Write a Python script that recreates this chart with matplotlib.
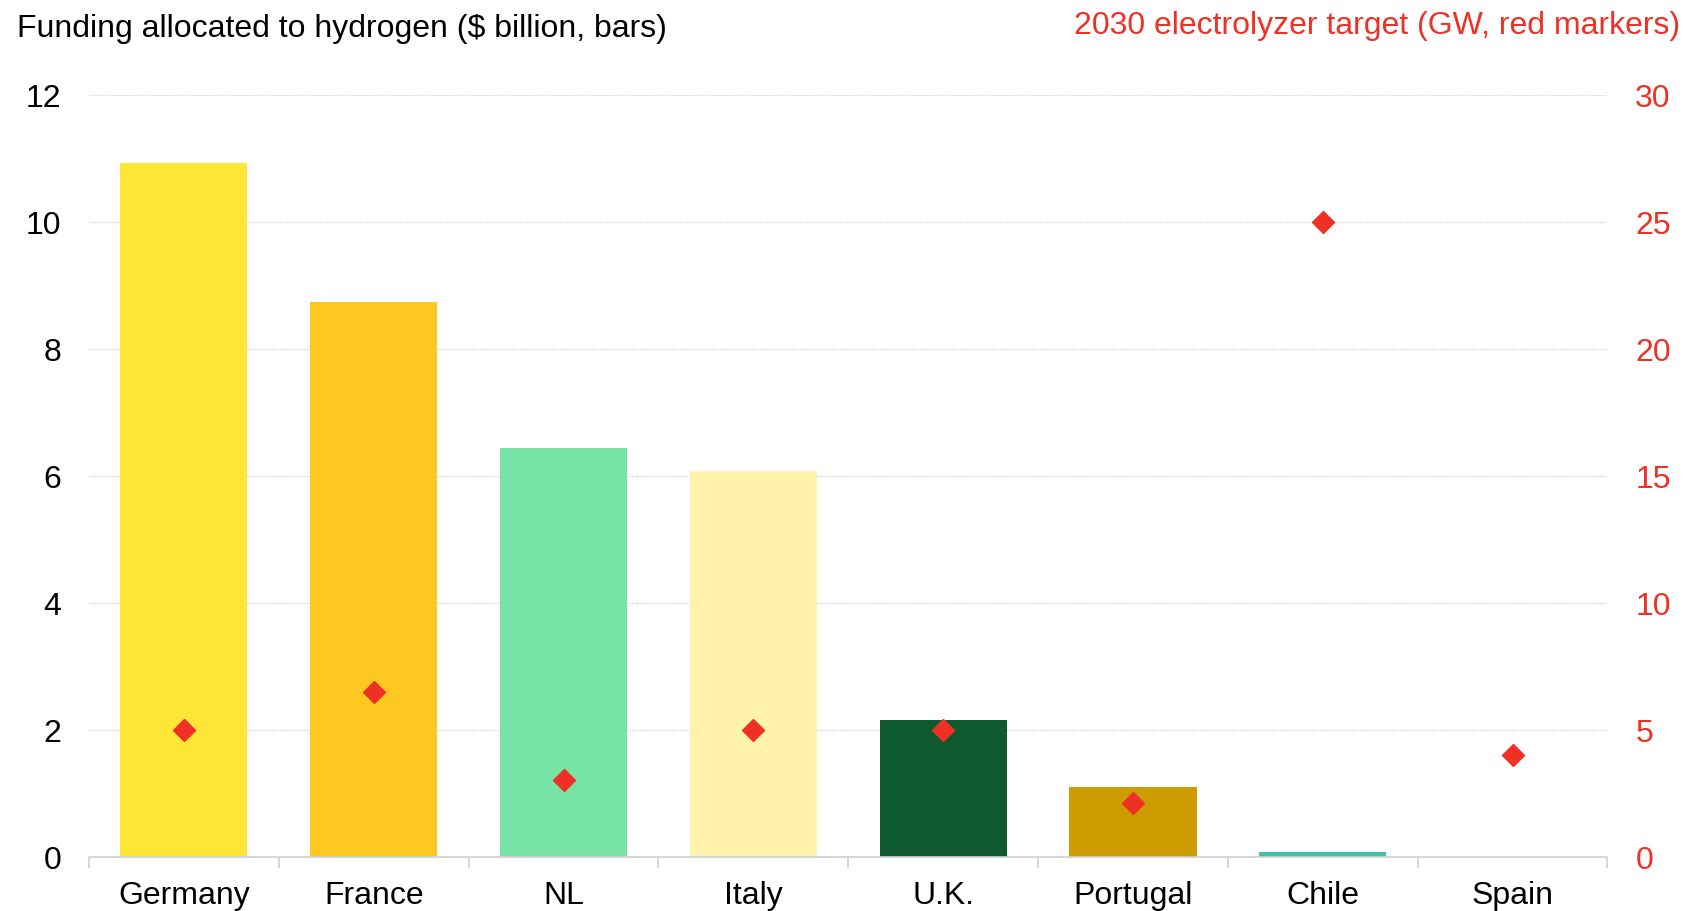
import matplotlib.pyplot as plt
import numpy as np

plt.rcParams['font.family'] = ['Liberation Sans', 'DejaVu Sans']

countries = ["Germany", "France", "NL", "Italy", "U.K.", "Portugal", "Chile", "Spain"]
funding = [10.92, 8.73, 6.43, 6.08, 2.15, 1.10, 0.07, 0.0]
target_gw = [5.0, 6.5, 3.0, 5.0, 5.0, 2.1, 25.0, 4.0]
bar_colors = ["#FFE535", "#FFC820", "#77E3A5", "#FFF3AE", "#0E5A2E", "#CC9C00", "#3FC1AA", "#3FC1AA"]
red = "#EE3124"
grid_grey = "#d0d0d0"

fig = plt.figure(figsize=(16.85, 9.12), dpi=100)
ax = fig.add_axes([0.0528, 0.0596, 0.9012, 0.8356])

x = np.arange(len(countries))
ax.bar(x, funding, width=0.67, color=bar_colors, zorder=2)

ax.set_xlim(-0.5, len(countries) - 0.5)
ax.set_ylim(0, 12)
ax.set_yticks(np.arange(0, 13, 2))
ax.yaxis.grid(True, color=grid_grey, linestyle=(0, (1, 1)), linewidth=0.9)
ax.set_axisbelow(True)

ax.set_xticks(x)
ax.set_xticklabels(countries)
ax.set_xticks(np.arange(-0.5, len(countries)), minor=True)
ax.tick_params(axis='x', which='major', length=0, pad=17, labelsize=23)
ax.tick_params(axis='x', which='minor', length=8, width=1.2, color=grid_grey)
ax.tick_params(axis='y', length=0, pad=20, labelsize=23)

for s in ["top", "left", "right"]:
    ax.spines[s].set_visible(False)
ax.spines["bottom"].set_color(grid_grey)
ax.spines["bottom"].set_linewidth(1.2)

ax2 = ax.twinx()
ax2.plot(x, target_gw, linestyle="none", marker="D", markersize=11.5, color=red, zorder=3)
ax2.set_ylim(0, 30)
ax2.set_yticks(np.arange(0, 31, 5))
ax2.tick_params(axis='y', length=0, pad=20, labelsize=23, labelcolor=red)
for s in ["top", "left", "right", "bottom"]:
    ax2.spines[s].set_visible(False)

fig.text(0.010, 0.968, "Funding allocated to hydrogen ($ billion, bars)", fontsize=23,
         ha="left", va="center")
fig.text(0.997, 0.972, "2030 electrolyzer target (GW, red markers)", fontsize=23,
         ha="right", va="center", color=red)

fig.savefig("out.png", dpi=100)
